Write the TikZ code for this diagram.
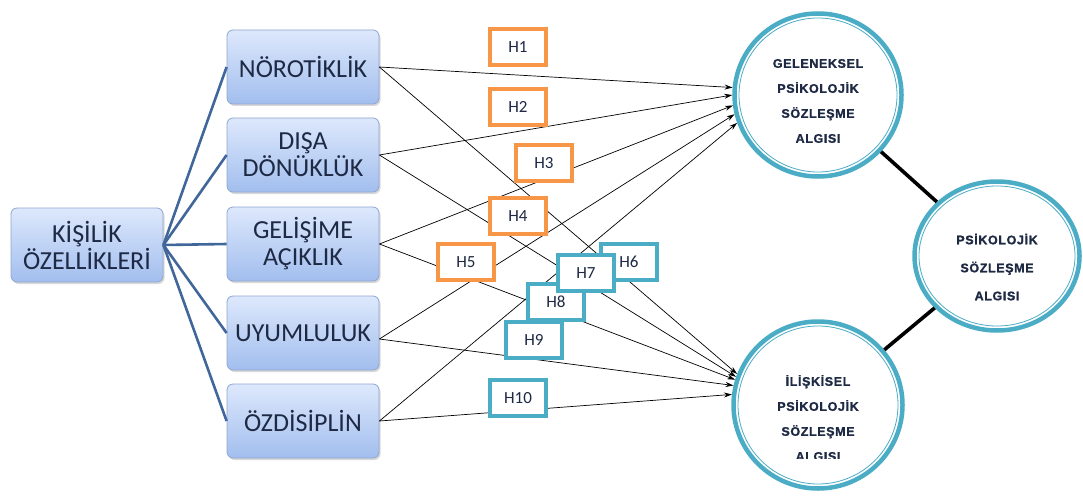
\documentclass[tikz,border=0pt]{standalone}
\usepackage{fontspec}
\setmainfont{Carlito}
\newfontfamily\circfont[LetterSpace=5,FakeBold=1.2]{Liberation Sans Bold}
\usetikzlibrary{arrows.meta,shadows,shapes.geometric}
\definecolor{boxtop}{HTML}{DDE8FC}
\definecolor{boxbot}{HTML}{A2BEEE}
\definecolor{boxline}{HTML}{8FA6CF}
\definecolor{fanblue}{HTML}{41679A}
\definecolor{hor}{HTML}{F79646}
\definecolor{hteal}{HTML}{4BACC6}
\definecolor{txt}{HTML}{1E2944}
\begin{document}
\begin{tikzpicture}[x=1pt,y=-1pt,
  trait/.style={draw=boxline, line width=0.8pt, rounded corners=6pt,
    top color=boxtop, bottom color=boxbot, minimum width=152pt,
    minimum height=74pt, align=center, text=txt,
    font=\fontsize{26}{27}\selectfont,
    drop shadow={shadow xshift=1.5pt, shadow yshift=-2pt, opacity=0.3}},
  fan/.style={draw=fanblue, line width=2.6pt},
  hyp/.style={draw=#1, line width=3.6pt, fill=white, minimum width=56pt,
    minimum height=36pt, text=txt, font=\fontsize{17}{19}\selectfont},
  ring/.style={ellipse, draw=hteal, line width=4.5pt, fill=white},
  inring/.style={draw=hteal, line width=0.8pt},
  circtext/.style={align=center, text=txt, font=\circfont\fontsize{12.5}{#1}\selectfont},
  arr/.style={draw=black, line width=0.7pt, -{Stealth[length=8pt,width=5pt]}},
  link/.style={draw=black, line width=3.6pt}
]
\useasboundingbox (0,0) rectangle (1083,500);

% personality traits
\node[trait] (k) at (87,245) {KİŞİLİK\\ÖZELLİKLERİ};
\node[trait] (n) at (303,67) {NÖROTİKLİK};
\node[trait] (d) at (303,155) {DIŞA\\DÖNÜKLÜK};
\node[trait] (a) at (303,244) {GELİŞİME\\AÇIKLIK};
\node[trait] (u) at (303,333) {UYUMLULUK};
\node[trait] (o) at (303,421) {ÖZDİSİPLİN};

\foreach \t in {n,d,a,u,o} \draw[fan] (k.east) -- (\t.west);

% contract perception circles
\node[ring, minimum width=167pt, minimum height=163pt] (g) at (818,95) {};
\node[ring, minimum width=165pt, minimum height=149pt] (p) at (997,256) {};
\node[ring, minimum width=169pt, minimum height=167pt] (i) at (818,405) {};
\draw[inring] (g.center) ellipse [x radius=79pt, y radius=77pt];
\draw[inring] (p.center) ellipse [x radius=78pt, y radius=70pt];
\draw[inring] (i.center) ellipse [x radius=80pt, y radius=79pt];

\node[circtext=25pt] (gt) at (818,101) {GELENEKSEL\\PSİKOLOJİK\\SÖZLEŞME\\ALGISI};
\node[circtext=28pt] (pt) at (997,267) {PSİKOLOJİK\\SÖZLEŞME\\ALGISI};
\begin{scope}
  \clip (700,300) rectangle (950,458);
  \node[circtext=25pt] (it) at (818,418) {İLİŞKİSEL\\PSİKOLOJİK\\SÖZLEŞME\\ALGISI};
\end{scope}

\draw[link] (g) -- (p);
\draw[link] (p) -- (i);

% hypothesis paths
\draw[arr] (n.east) -- (g.175);
\draw[arr] (d.east) -- (g.180);
\draw[arr] (a.east) -- (g.187);
\draw[arr] ([yshift=-6pt]u.east) -- (g.193);
\draw[arr] (o.east) -- (g.199);
\draw[arr] (n.east) -- (i.159);
\draw[arr] (d.east) -- (i.161);
\draw[arr] (a.east) -- (i.163);
\draw[arr] ([yshift=-6pt]u.east) -- (i.167);
\draw[arr] (o.east) -- (i.173);

% hypothesis labels
\node[hyp=hor] (h1) at (518,47) {H1};
\node[hyp=hor] (h2) at (518,107) {H2};
\node[hyp=hor] (h3) at (544,163) {H3};
\node[hyp=hor] (h4) at (518,216) {H4};
\node[hyp=hor] (h5) at (466,262) {H5};
\node[hyp=hteal] (h6) at (629,262) {H6};
\node[hyp=hteal] (h8) at (556,302) {H8};
\node[hyp=hteal] (h7) at (586,273) {H7};
\node[hyp=hteal] (h9) at (534,340) {H9};
\node[hyp=hteal] (h10) at (518,398) {H10};
\end{tikzpicture}
\end{document}
